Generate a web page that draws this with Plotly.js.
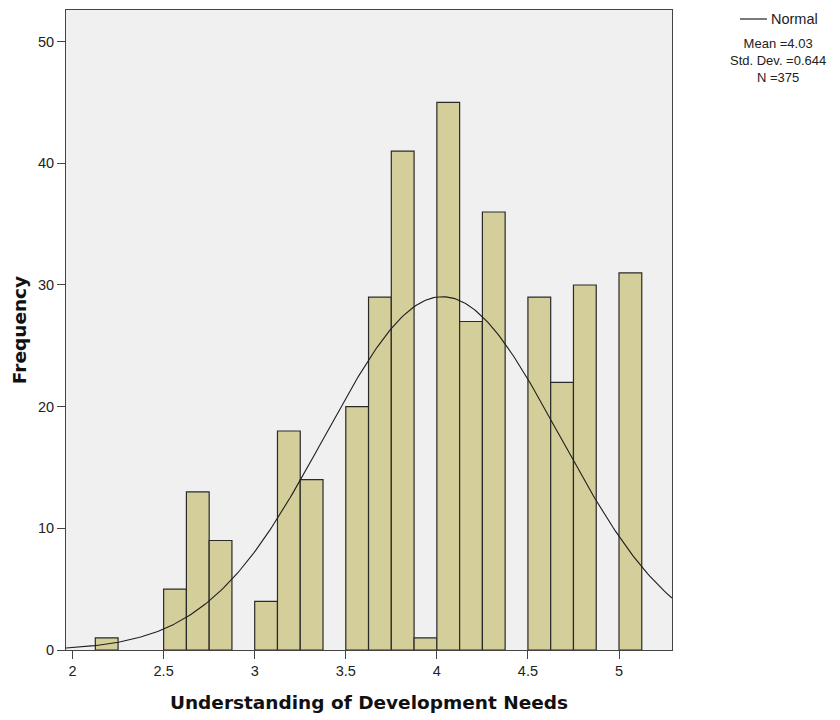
<!DOCTYPE html>
<html>
<head>
<meta charset="utf-8">
<script src="https://cdn.plot.ly/plotly-3.0.1.min.js"></script>
<style>html,body{margin:0;padding:0;background:#fff;}#chart{width:840px;height:720px;}</style>
</head>
<body>
<div id="chart"></div>
<script>
// Histogram bins (left edges) and frequencies
const binStarts = [2.125, 2.5, 2.625, 2.75, 3.0, 3.125, 3.25, 3.5, 3.625, 3.75, 3.875, 4.0, 4.125, 4.25, 4.5, 4.625, 4.75, 5.0];
const frequencies = [1, 5, 13, 9, 4, 18, 14, 20, 29, 41, 1, 45, 27, 36, 29, 22, 30, 31];
const binWidth = 0.125;
// Normal curve statistics shown in the chart
const mean = 4.03;
const stdDev = 0.644;
const n = 375;
const xTicks = [2, 2.5, 3, 3.5, 4, 4.5, 5];
const yTicks = [0, 10, 20, 30, 40, 50];
const statLines = ['Mean =4.03', 'Std. Dev. =0.644', 'N =375'];

const centers = binStarts.map(s => s + binWidth / 2);

const curveX = [];
const curveY = [];
const xmin = 1.964, xmax = 5.291;
for (let i = 0; i <= 300; i++) {
  const x = xmin + (xmax - xmin) * i / 300;
  const z = (x - mean) / stdDev;
  curveX.push(x);
  curveY.push(n * binWidth * Math.exp(-0.5 * z * z) / (stdDev * Math.sqrt(2 * Math.PI)));
}

const bars = {
  type: 'bar',
  x: centers,
  y: frequencies,
  width: binWidth,
  marker: {color: '#d3ce9a', line: {color: '#2a2a2a', width: 1.2}},
  hoverinfo: 'x+y',
  showlegend: false
};
const curve = {
  type: 'scatter',
  mode: 'lines',
  x: curveX,
  y: curveY,
  line: {color: '#1e1e1e', width: 1.1},
  showlegend: false,
  hoverinfo: 'skip'
};

const tickFont = {family: '"Liberation Sans", Arial, sans-serif', size: 14.5, color: '#222'};
const titleFont = {family: '"DejaVu Sans", Verdana, sans-serif', size: 18.5, color: '#111', weight: 'bold'};
const legFont = {family: '"Liberation Sans", Arial, sans-serif', size: 14.5, color: '#222'};
const statFont = {family: '"Liberation Sans", Arial, sans-serif', size: 13, color: '#222'};

const layout = {
  width: 840, height: 720,
  margin: {l: 66, r: 168, t: 10, b: 70},
  paper_bgcolor: '#ffffff',
  plot_bgcolor: '#f0f0f0',
  bargap: 0,
  xaxis: {
    range: [xmin, xmax],
    tickvals: xTicks,
    ticktext: xTicks.map(String),
    ticks: 'outside', ticklen: 8, tickcolor: '#444', tickwidth: 1,
    showgrid: false, zeroline: false,
    showline: true, linecolor: '#444', linewidth: 1, mirror: true,
    tickfont: tickFont,
    title: {text: 'Understanding of Development Needs', font: titleFont, standoff: 17}
  },
  yaxis: {
    range: [0, 52.6],
    tickvals: yTicks,
    ticks: 'outside', ticklen: 8, tickcolor: '#444', tickwidth: 1,
    showgrid: false, zeroline: false,
    showline: true, linecolor: '#444', linewidth: 1, mirror: true,
    tickfont: tickFont,
    title: {text: 'Frequency', font: titleFont, standoff: 6}
  },
  shapes: [{
    type: 'line', xref: 'paper', yref: 'paper',
    x0: (740 - 66) / 606, x1: (767 - 66) / 606,
    y0: (650 - 19) / 640, y1: (650 - 19) / 640,
    line: {color: '#222', width: 1.2}
  }],
  annotations: [
    {xref: 'paper', yref: 'paper', x: (769 - 66) / 606, y: (650 - 19) / 640,
     xanchor: 'left', yanchor: 'middle', showarrow: false, text: 'Normal', font: legFont},
    {xref: 'paper', yref: 'paper', x: (778 - 66) / 606, y: (650 - 60) / 640,
     xanchor: 'center', yanchor: 'middle', showarrow: false, align: 'center',
     text: statLines.join('<br>'), font: statFont}
  ]
};

Plotly.newPlot('chart', [bars, curve], layout, {displayModeBar: false, staticPlot: true});
</script>
</body>
</html>
